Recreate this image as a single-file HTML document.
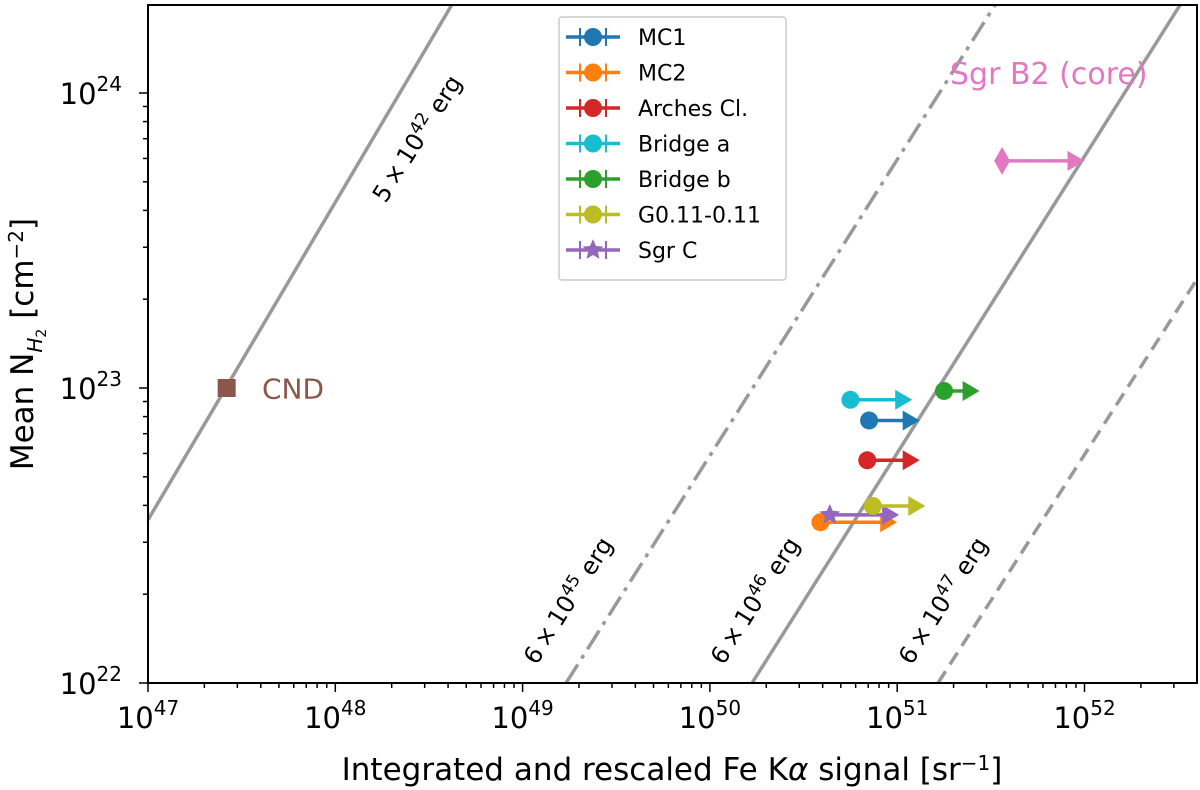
<!DOCTYPE html>
<html><head><meta charset="utf-8"><style>
body{margin:0;background:#fff;}
svg{display:block;font-family:"DejaVu Sans","Liberation Sans",sans-serif;}
</style></head><body>
<svg id="chart" width="1200" height="790" xmlns="http://www.w3.org/2000/svg">
<g id="plot"></g>
</svg>
<script>
// ---- data (log10 values) ----
const seriesNames = ["MC1","MC2","Arches Cl.","Bridge a","Bridge b","G0.11-0.11","Sgr C"];
const seriesColors = ["#1f77b4","#ff7f0e","#d62728","#17becf","#2ca02c","#bcbd22","#9467bd"];
const seriesX = [50.85,50.59,50.84,50.75,51.25,50.87,50.64];
const seriesY = [22.89,22.545,22.755,22.96,22.99,22.60,22.57];
const seriesXlim = [51.12,51.0,51.12,51.08,51.44,51.15,51.01];
const b2X = 51.56, b2Y = 23.77, b2Xlim = 52.0;
const cndX = 47.42, cndY = 23.0;
const lineLabels = ["5e42","6e45","6e46","6e47"];
const lineX0 = [47.0,49.232,50.225,51.218];
const lineY0 = [22.553,22.0,22.0,22.0];
const lineX1 = [48.623,51.522,52.51,52.61];
const lineY1 = [24.30,24.298,24.298,23.378];
const xTicks = [47,48,49,50,51,52];
const yTicks = [22,23,24];

const X0=148,X1=1197,Y0=683,Y1=5;
const xmin=47, xmax=47+(X1-X0)/187.3, ymin=22, ymax=22+(Y0-Y1)/295;
const sx=v=>X0+(v-xmin)/(xmax-xmin)*(X1-X0);
const sy=v=>Y0-(v-ymin)/(ymax-ymin)*(Y0-Y1);
const NS="http://www.w3.org/2000/svg";
const svg=document.getElementById('chart');
function mk(tag,attrs,parent){const e=document.createElementNS(NS,tag);for(const k in attrs)e.setAttribute(k,attrs[k]);(parent||svg).appendChild(e);return e;}

const defs=mk('defs',{});
const cp=mk('clipPath',{id:'clip'},defs);
mk('rect',{x:X0,y:Y1,width:X1-X0,height:Y0-Y1},cp);
const g=mk('g',{'clip-path':'url(#clip)'});



const dashes=["", "22,7,4,7", "", "14,8"];
for(let i=0;i<lineX0.length;i++){
  const l=mk('line',{x1:sx(lineX0[i]),y1:sy(lineY0[i]),x2:sx(lineX1[i]),y2:sy(lineY1[i]),stroke:'#999','stroke-width':3.5,'stroke-dasharray':dashes[i]},g);
  
  
}
function arrow(x,y,xl,color,marker,name){
  const grp=mk('g',{},g);
  
  
  const px=sx(x),py=sy(y),tx=sx(xl);
  mk('line',{x1:px,y1:py,x2:tx-14,y2:py,stroke:color,'stroke-width':3.5},grp);
  mk('polygon',{points:`${tx},${py} ${tx-17},${py-10} ${tx-17},${py+10}`,fill:color},grp);
  if(marker==='o') mk('circle',{cx:px,cy:py,r:9,fill:color},grp);
  else if(marker==='*'){let p=[];for(let k=0;k<10;k++){const r=k%2?5:11,a=-Math.PI/2+k*Math.PI/5;p.push((px+r*Math.cos(a))+','+(py+r*Math.sin(a)));}mk('polygon',{points:p.join(' '),fill:color},grp);}
  else if(marker==='d') mk('polygon',{points:`${px-8},${py} ${px},${py-14} ${px+8},${py} ${px},${py+14}`,fill:color},grp);
}
const order=[1,6,5,2,0,3,4];
for(const i of order) arrow(seriesX[i],seriesY[i],seriesXlim[i],seriesColors[i],i===6?'*':'o','point-'+seriesNames[i].toLowerCase().replace(/[^a-z0-9]+/g,'-'));
arrow(b2X,b2Y,b2Xlim,'#e377c2','d','point-sgr-b2-core');
const sq=mk('rect',{x:sx(cndX)-9,y:sy(cndY)-9,width:18,height:18,fill:'#8c564b'},g);



function txt(x,y,s,attrs,name){const t=mk('text',Object.assign({x:x,y:y},attrs||{}));t.innerHTML=s;return t;}
txt(262,389,'CND',{fill:'#8c564b','font-size':28,'dominant-baseline':'central'},'cnd-label');
txt(950,84,'Sgr B2 (core)',{fill:'#e377c2','font-size':30},'sgr-b2-label');
const ang=-57.7;
const lbl=[[424,143,'5','42'],[575,605,'6','45'],[762,605,'6','46'],[950,605,'6','47']];
lbl.forEach((l,i)=>{txt(l[0],l[1],`${l[2]}\u2009×\u200910<tspan dy="-9" font-size="17">${l[3]}</tspan><tspan dy="9"> erg</tspan>`,{'font-size':24,'text-anchor':'middle',transform:`rotate(${ang} ${l[0]} ${l[1]})`},'energy-label-'+lineLabels[i]);});

const fr=mk('rect',{x:X0,y:Y1,width:X1-X0,height:Y0-Y1,fill:'none',stroke:'#000','stroke-width':2});


for(let d=47;d<=52;d++){
  for(let m=1;m<10;m++){
    const v=d+Math.log10(m); if(v>xmax) break;
    const x=sx(v);
    mk('line',{x1:x,y1:Y0,x2:x,y2:Y0+(m===1?9:5),stroke:'#000','stroke-width':1.5});
  }
}
xTicks.forEach(t=>{txt(sx(t),728,`10<tspan dy="-13" font-size="20">${t}</tspan>`,{'font-size':29,'text-anchor':'middle'},'x-tick-'+t);});
for(let d=22;d<=24;d++){
  for(let m=1;m<10;m++){
    const v=d+Math.log10(m); if(v>ymax) break;
    const y=sy(v);
    mk('line',{x1:X0,y1:y,x2:X0-(m===1?9:5),y2:y,stroke:'#000','stroke-width':1.5});
  }
}
yTicks.forEach(t=>{txt(122,sy(t)+11,`10<tspan dy="-13" font-size="20">${t}</tspan>`,{'font-size':29,'text-anchor':'end'},'y-tick-'+t);});

txt(672,780,'Integrated and rescaled Fe K<tspan font-style="italic">α</tspan> signal [sr<tspan dy="-10" font-size="20">−1</tspan><tspan dy="10">]</tspan>',{'font-size':31,'text-anchor':'middle'},'x-axis-title');
txt(33,344,'Mean N<tspan dy="9" font-size="20" font-style="italic">H</tspan><tspan dy="4" font-size="14">2</tspan><tspan dy="-13"> [cm</tspan><tspan dy="-10" font-size="20">−2</tspan><tspan dy="10">]</tspan>',{'font-size':31,'text-anchor':'middle',transform:'rotate(-90 33 344)'},'y-axis-title');

const lg=mk('g',{});


mk('rect',{x:559,y:17,width:227,height:263,fill:'#fff',stroke:'#ccc','stroke-width':1.5,rx:3},lg);
seriesNames.forEach((n,i)=>{
  const y=37+i*35.5,c=seriesColors[i];
  const e=mk('g',{},lg);
  
  
  mk('line',{x1:566,y1:y,x2:620,y2:y,stroke:c,'stroke-width':3.5},e);
  mk('line',{x1:580,y1:y-9,x2:580,y2:y+9,stroke:c,'stroke-width':2},e);
  mk('line',{x1:606,y1:y-9,x2:606,y2:y+9,stroke:c,'stroke-width':2},e);
  if(i===6){let p=[];for(let k=0;k<10;k++){const r=k%2?5:11,a=-Math.PI/2+k*Math.PI/5;p.push((593+r*Math.cos(a))+','+(y+r*Math.sin(a)));}mk('polygon',{points:p.join(' '),fill:c},e);}
  else mk('circle',{cx:593,cy:y,r:9,fill:c},e);
  const t=mk('text',{x:638,y:y+8,'font-size':22},e);t.textContent=n;
});
</script>
</body></html>
